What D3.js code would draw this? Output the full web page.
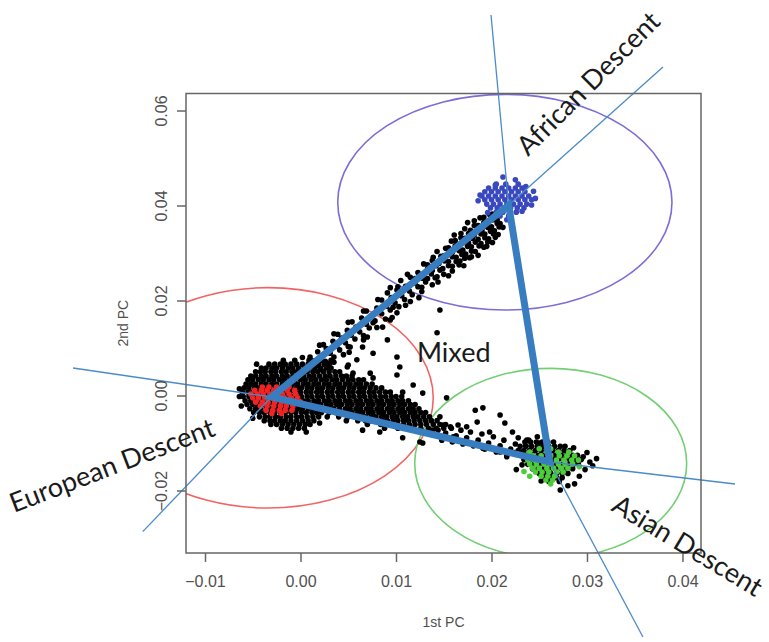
<!DOCTYPE html>
<meta charset="utf-8">
<style>
  body { margin: 0; background: #fff; }
  .axis text { font-family: "Liberation Sans", Arial, sans-serif; font-size: 16px; fill: #505050; }
  .axis line { stroke: #666; stroke-width: 1.5; }
  .axis path { display: none; }
  .frame { fill: none; stroke: #666; stroke-width: 1.5; }
  .axis-title { font-family: "Liberation Sans", Arial, sans-serif; font-size: 14px; fill: #505050; }
  .ann { font-family: Lato, "Open Sans", sans-serif; font-size: 27px; fill: #1a1a1a; }
</style>

<svg class="pca_chart" width="769" height="642"></svg>

<script src="https://d3js.org/d3.v7.min.js"></script>
<script>

  // axes
  var xDomain = [-0.01199, 0.04194],
      yDomain = [-0.03316, 0.06358];
  var xTicks = [-0.01, 0.00, 0.01, 0.02, 0.03, 0.04],
      yTicks = [-0.02, 0.00, 0.02, 0.04, 0.06];

  // point values are in units of 1e-4 (1st PC, 2nd PC)
  var U = 1e-4;

  // dense black rows: [2nd PC, 1st PC, 1st PC, ...]
  var blackRows = [
    [74, -18,-6,9,22],
    [66, -33,-27,-21,-16,-10,-4,2,8,13,19,25,30],
    [58, -41,-36,-30,-25,-19,-13,-8,-2,4,9,15,21,27,32],
    [50, -47,-42,-37,-31,-26,-20,-15,-9,-4,2,7,13,18,24,30,36,41],
    [41, -52,-47,-41,-36,-30,-25,-19,-14,-8,-3,3,9,14,20,26,31,37,43,48,54],
    [33, -55,-50,-44,-39,-33,-28,-22,-17,-11,-6,0,5,11,16,22,27,33,38,44,50,55,61,66],
    [24, -57,-52,-47,-41,-36,-30,-25,-19,-14,-8,-3,3,8,14,19,25,30,36,41,47,52,58,63,69,75],
    [16, -59,-54,-48,-43,-37,-32,-26,-21,-15,-10,-4,1,7,12,18,23,29,34,40,45,51,56,62,67,73,79,85],
    [7, -61,-55,-50,-44,-38,-33,-27,-22,-16,-11,-5,0,6,11,17,22,28,33,39,44,50,55,61,66,72,77,83,89,94],
    [-2, -64,-60,-54,-48,-43,-37,-32,-26,-21,-15,-10,-4,1,7,12,18,23,29,34,40,45,51,56,62,67,73,78,84,89,95,100,106],
    [-11, -58,-52,-47,-41,-36,-30,-25,-19,-14,-8,-3,3,8,14,19,25,30,36,41,47,52,58,63,69,74,80,85,91,96,102,107,113],
    [-19, -56,-50,-45,-39,-34,-28,-23,-17,-12,-6,-1,5,10,16,21,27,32,38,43,49,54,60,65,71,76,82,87,93,98,104,109,115,120],
    [-28, -53,-47,-42,-36,-31,-25,-20,-14,-9,-3,2,8,13,19,24,30,35,41,47,52,58,63,69,74,80,85,91,96,102,107,113,118,124],
    [-36, -49,-43,-38,-32,-27,-21,-16,-10,-5,1,6,12,17,22,30,37,43,49,54,60,65,71,76,82,87,93,98,104,109,115,120,126,131],
    [-45, -43,-37,-32,-26,-21,-15,-10,-4,1,7,13,19,28,40,50,57,63,68,74,79,85,90,96,101,107,112,118,123,129,135],
    [-53, -38,-32,-27,-21,-16,-10,-4,2,8,14,48,60,68,74,80,86,91,97,102,108,113,119,125,131,137,143],
    [-61, -31,-25,-19,-13,-7,-1,5,10,70,84,90,96,102,108,114,120,126,132,139,146,152],
    [-69, -20,-14,-8,-2,4,88,102,110,118,126,134,142,150,158],
    [-77, -10,6],
    // asian cluster
    [-98, 235,241,247,253,259,265],
    [-107, 230,236,242,248,254,260,266,272,277],
    [-116, 228,234,240,246,252,258,264,270,276,282],
    [-126, 231,237,243,249,255,261,267,273,279,285,290],
    [-135, 234,240,246,252,258,264,270,276,282,288,294],
    [-145, 238,244,250,256,262,268,274,280,286,291],
    [-154, 243,249,255,261,267,273,279,285],
    [-164, 250,256,262,268,274,280],
    [-173, 256,262,268,274],
    [-181, 260,271]
  ];

  // scattered black points: 1st PC, 2nd PC pairs
  var blackUpperArm = [
    10,81, 13,73, 17,63, 21,55, 18,92, 22,82, 26,72, 29,66, 24,107, 27,99, 31,89, 35,81,
    35,70, 20,106, 35,130, 51,91, 50,154, 66,117, 66,178, 80,143, 81,202, 96,164, 94,227, 110,190,
    34,114, 38,104, 41,96, 45,86, 39,129, 43,121, 47,111, 50,103, 49,137, 53,127, 57,119,
    54,155, 58,144, 62,134, 66,126, 64,163, 69,150, 72,142, 69,178, 74,167, 78,157,
    80,184, 85,172, 89,161, 85,201, 90,188, 94,180, 91,216, 95,206, 99,195, 103,187,
    101,222, 106,210, 109,202, 105,242, 110,230, 114,220, 117,212, 112,255,
    115,198, 102,229, 114,231, 124,206, 120,246, 127,228,
    115,249, 120,237, 123,229, 127,219, 123,259, 128,247, 131,239,
    129,256, 133,246, 138,233, 133,275, 138,263, 143,250,
    129,277, 133,266, 137,256, 141,248, 144,239, 138,284, 142,273, 146,264, 150,255,
    139,291, 145,278, 149,267, 155,252, 150,294, 155,282, 159,272,
    143,303, 147,293, 151,283, 155,273, 159,262, 152,310, 156,300, 159,292, 163,282, 166,275,
    155,311, 159,301, 163,291, 167,283, 171,273,
    158,325, 162,315, 166,305, 169,297, 172,289, 161,338, 179,292,
    162,326, 166,316, 170,306, 173,298, 177,290,
    168,332, 172,322, 175,314, 179,304, 172,351, 176,341, 180,331, 183,323, 187,315,
    168,341, 172,331, 176,321, 179,313, 183,303, 186,295,
    178,348, 182,338, 186,329, 189,320, 192,312,
    175,364, 182,358, 186,348, 189,340, 193,332, 196,323, 195,314,
    182,368, 186,358, 190,348, 193,340, 197,330, 201,322,
    188,374, 192,364, 196,354, 199,346, 202,340, 204,333, 198,381, 202,370, 206,362, 208,355,
    192,375, 196,365, 200,355, 203,347, 207,339, 201,382, 206,370, 209,362, 212,354
  ];
  var blackMixed = [
    52,102, 70,123, 76,153, 86,144, 94,159, 97,186, 101,174, 76,89, 59,75, 91,117,
    101,81, 73,47, 104,60, 49,60, 143,132, 146,180, 65,102, 34,71, 50,64, 55,47,
    76,37, 101,43, 118,22, 107,7, 128,5, 153,-5,
    -64,14, -62,-22, -46,66, 2,80, -50,-48, 20,-58, 32,74
  ];
  var blackLowerArm = [
    144,-73, 148,-94, 152,-79, 157,-66, 159,-98, 163,-85, 168,-73, 170,-102, 174,-89, 178,-77,
    181,-106, 186,-94, 190,-81, 193,-113, 197,-100, 202,-87, 205,-119, 209,-106, 213,-94,
    216,-125, 220,-113, 225,-102, 228,-89, 232,-119, 236,-106, 239,-94, 243,-125, 248,-113, 251,-100,
    183,-31, 191,-26, 209,-41, 214,-58, 185,-56, 174,-66, 165,-62, 198,-77, 222,-77,
    237,-94, 248,-87, 146,-45, 149,-62, 138,-73, 160,-87, 174,-100, 191,-111, 209,-119, 216,-129,
    107,-89, 125,-98, 65,-73, 83,-77, 128,-100,
    296,-129, 298,-156, 287,-186, 226,-156, 272,-199, 303,-140,
    300,-120, 306,-148, 292,-170, 280,-190, 252,-180, 232,-146, 224,-120, 286,-110, 310,-133
  ];

  var redRows = [
    [18, -40,-33,-25,-12],
    [11, -48,-41,-35,-28,-21,-14,-6],
    [3, -52,-45,-39,-32,-25,-19,-12,-5],
    [-5, -50,-44,-37,-30,-23,-17,-10,-3],
    [-14, -47,-40,-34,-27,-20,-14,-7,0],
    [-22, -42,-35,-28,-21,-15,-8],
    [-31, -36,-29,-22,-16,-9],
    [-38, -30,-20]
  ];
  var greenRows = [
    [-112, 250,262],
    [-119, 240,258,270,281],
    [-127, 236,244,252,262,271,279,287],
    [-136, 238,245,253,260,268,276,284,291],
    [-144, 240,247,255,262,270,277,285],
    [-150, 292],
    [-153, 243,250,258,265,273,280],
    [-160, 234],
    [-161, 246,253,260,268,275],
    [-170, 240,252,259,266],
    [-178, 257,264],
    [-186, 262]
  ];
  var blueRows = [
    [460, 212],
    [454, 225],
    [445, 205,215,228],
    [443, 204],
    [440, 236],
    [437, 197,204,211,218,225,232],
    [430, 244],
    [429, 193,200,207,214,221,228,235],
    [422, 188],
    [420, 190,197,204,211,218,225,232,239],
    [415, 246],
    [412, 193,200,207,214,221,228,235,242],
    [410, 186],
    [403, 195,202,209,216,223,230,237],
    [401, 242],
    [395, 199,206,213,220,227,234],
    [388, 232],
    [386, 205,212,219,226],
    [385, 196],
    [378, 209,218],
    [370, 216]
  ];

  // population ellipses: centre and radii in PC units
  var ellipseNames = ["European", "African", "Asian"];
  var ellipseCx = [-0.0034, 0.0214, 0.0262],
      ellipseCy = [-0.0005, 0.0407, -0.0143],
      ellipseRx = [0.0173, 0.0175, 0.01424],
      ellipseRy = [0.0232, 0.0227, 0.0200];
  var ellipseColors = ["#f26464", "#7b6fd6", "#74cf74"];

  // triangle vertices (European, African, Asian) and the rays out of them
  var vertices = [[-0.00304, -0.00032], [0.0218, 0.0401], [0.0261, -0.0140]];
  var rayEnds = [
    [[-0.02382, 0.00579], [-0.01652, -0.02867]],
    [[0.01995, 0.08011], [0.03796, 0.06916]],
    [[0.04550, -0.01863], [0.03586, -0.05084]]
  ];

  var labels = ["European Descent", "African Descent", "Asian Descent", "Mixed"];
  var labelPos = [[-0.0300, -0.02474], [0.02382, 0.0502], [0.03240, -0.02411], [0.0122, 0.00705]];
  var labelAngle = [-21, -45, 31, 0];

  var svg = d3.select(".pca_chart"),
      margin = {top: 93.5, right: 68, bottom: 89, left: 186},
      width = +svg.attr("width") - margin.left - margin.right,
      height = +svg.attr("height") - margin.top - margin.bottom;

  var x = d3.scaleLinear().domain(xDomain).range([margin.left, margin.left + width]);
  var y = d3.scaleLinear().domain(yDomain).range([margin.top + height, margin.top]);

  function fromRows(rows) {
    var out = [];
    rows.forEach(function(r) {
      for (var i = 1; i < r.length; i++) out.push([r[i] * U, r[0] * U]);
    });
    return out;
  }
  function fromPairs(flat) {
    var out = [];
    for (var i = 0; i < flat.length; i += 2) out.push([flat[i] * U, flat[i + 1] * U]);
    return out;
  }

  svg.append("clipPath").attr("id", "plot-clip")
    .append("rect")
      .attr("x", margin.left).attr("y", margin.top)
      .attr("width", width).attr("height", height);

  var plot = svg.append("g").attr("clip-path", "url(#plot-clip)");

  plot.selectAll("ellipse")
    .data(ellipseNames)
    .enter().append("ellipse")
      .attr("cx", function(d, i) { return x(ellipseCx[i]); })
      .attr("cy", function(d, i) { return y(ellipseCy[i]); })
      .attr("rx", function(d, i) { return x(ellipseCx[i] + ellipseRx[i]) - x(ellipseCx[i]); })
      .attr("ry", function(d, i) { return y(ellipseCy[i]) - y(ellipseCy[i] + ellipseRy[i]); })
      .attr("fill", "none")
      .attr("stroke", function(d, i) { return ellipseColors[i]; })
      .attr("stroke-width", 1.6);

  var black = fromRows(blackRows)
    .concat(fromPairs(blackUpperArm), fromPairs(blackMixed), fromPairs(blackLowerArm));

  var groups = [
    {pts: black, color: "#000"},
    {pts: fromRows(redRows), color: "#f02424"},
    {pts: fromRows(greenRows), color: "#4ccc3a"},
    {pts: fromRows(blueRows), color: "#3a48c0"}
  ];

  groups.forEach(function(g) {
    plot.append("g").selectAll("circle")
      .data(g.pts)
      .enter().append("circle")
        .attr("cx", function(d) { return x(d[0]); })
        .attr("cy", function(d) { return y(d[1]); })
        .attr("r", 2.8)
        .attr("fill", g.color);
  });

  // thin rays
  var rays = [];
  vertices.forEach(function(v, i) {
    rayEnds[i].forEach(function(e) { rays.push([v, e]); });
  });
  svg.append("g").selectAll("line")
    .data(rays)
    .enter().append("line")
      .attr("x1", function(d) { return x(d[0][0]); })
      .attr("y1", function(d) { return y(d[0][1]); })
      .attr("x2", function(d) { return x(d[1][0]); })
      .attr("y2", function(d) { return y(d[1][1]); })
      .attr("stroke", "#4b8bc8")
      .attr("stroke-width", 1.3);

  // thick triangle
  var tri = d3.line()
      .x(function(d) { return x(d[0]); })
      .y(function(d) { return y(d[1]); })
      .curve(d3.curveLinearClosed);
  svg.append("path")
      .attr("d", tri(vertices))
      .attr("fill", "none")
      .attr("stroke", "#387dc0")
      .attr("stroke-width", 7)
      .attr("stroke-linejoin", "miter");

  // frame and axes
  svg.append("rect").attr("class", "frame")
      .attr("x", margin.left).attr("y", margin.top)
      .attr("width", width).attr("height", height);

  svg.append("g")
      .attr("class", "axis")
      .attr("transform", "translate(0," + (margin.top + height) + ")")
      .call(d3.axisBottom(x).tickValues(xTicks).tickSize(9).tickPadding(14)
        .tickFormat(d3.format(".2f")));

  var yAxis = svg.append("g")
      .attr("class", "axis")
      .attr("transform", "translate(" + margin.left + ",0)")
      .call(d3.axisLeft(y).tickValues(yTicks).tickSize(9)
        .tickFormat(d3.format(".2f")));
  yAxis.selectAll("text")
      .attr("transform", "rotate(-90)")
      .attr("x", 0).attr("y", -19.5).attr("dy", 0)
      .attr("text-anchor", "middle");

  svg.append("text").attr("class", "axis-title")
      .attr("x", margin.left + width / 2).attr("y", 627)
      .attr("text-anchor", "middle")
      .text("1st PC");
  svg.append("text").attr("class", "axis-title")
      .attr("transform", "translate(127.5," + (margin.top + height / 2) + ") rotate(-90)")
      .attr("text-anchor", "middle")
      .text("2nd PC");

  // annotations
  svg.append("g").selectAll("text")
    .data(labels)
    .enter().append("text")
      .attr("class", "ann")
      .attr("transform", function(d, i) {
        return "translate(" + x(labelPos[i][0]) + "," + y(labelPos[i][1]) + ") rotate(" + labelAngle[i] + ")";
      })
      .text(function(d) { return d; });

</script>
